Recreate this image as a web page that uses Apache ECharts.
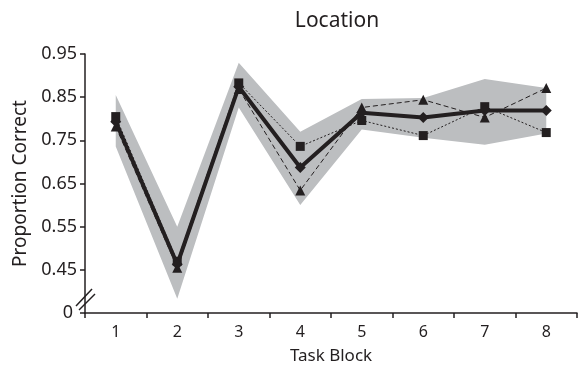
<!DOCTYPE html>
<html>
<head>
<meta charset="utf-8">
<script src="https://cdn.jsdelivr.net/npm/echarts@6/dist/echarts.min.js"></script>
<style>
html,body{margin:0;padding:0;background:#fff;}
#chart{width:578px;height:370px;}
</style>
</head>
<body>
<div id="chart"></div>
<script>
var categories = ['1','2','3','4','5','6','7','8'];
var yTickLabels = ['0','0.45','0.55','0.65','0.75','0.85','0.95'];
var squareSeries   = [0.805, 0.470, 0.883, 0.736, 0.796, 0.761, 0.828, 0.768];
var triangleSeries = [0.782, 0.455, 0.869, 0.634, 0.826, 0.844, 0.803, 0.871];
var meanSeries     = [0.793, 0.463, 0.874, 0.687, 0.814, 0.803, 0.819, 0.819];
var bandLow        = [0.736, 0.383, 0.826, 0.600, 0.775, 0.756, 0.740, 0.766];
var bandHigh       = [0.855, 0.550, 0.930, 0.770, 0.846, 0.848, 0.892, 0.871];

var ink = '#231f20';
var font = 'Noto Sans';
var bandSpan = bandHigh.map(function(v, i){ return +(v - bandLow[i]).toFixed(4); });

var chart = echarts.init(document.getElementById('chart'));
chart.setOption({
  animation: false,
  title: {
    text: 'Location', left: 332, top: 6, textAlign: 'center',
    textStyle: {fontFamily: font, fontSize: 21, fontWeight: 'normal', color: ink}
  },
  grid: {left: 85, right: 1, top: 54, bottom: 56, containLabel: false},
  xAxis: {
    type: 'category', data: categories, boundaryGap: true,
    name: 'Task Block', nameLocation: 'middle', nameGap: 35,
    nameTextStyle: {fontFamily: font, fontSize: 17, color: ink},
    axisLine: {lineStyle: {color: ink, width: 1.5}},
    axisTick: {show: true, length: 5, lineStyle: {color: ink, width: 1.5}},
    axisLabel: {fontFamily: font, fontSize: 16, color: ink, margin: 11},
    splitLine: {show: false}
  },
  yAxis: {
    type: 'value', min: 0.35, max: 0.95, interval: 0.1,
    name: 'Proportion Correct', nameLocation: 'middle', nameGap: 52,
    nameTextStyle: {fontFamily: font, fontSize: 19, color: ink},
    axisLine: {show: true, lineStyle: {color: ink, width: 1.5}},
    axisTick: {show: true, length: 5, lineStyle: {color: ink, width: 1.5}},
    axisLabel: {
      fontFamily: font, fontSize: 18, color: ink, margin: 8,
      formatter: function(v){
        var idx = Math.round((v - 0.35) / 0.1);
        if (idx === 0) return '{z|' + yTickLabels[0] + '}';
        return yTickLabels[idx] !== undefined ? yTickLabels[idx] : '';
      },
      rich: {z: {fontFamily: font, fontSize: 18, color: ink, padding: [0, 4, 0, 0]}}
    },
    splitLine: {show: false}
  },
  series: [
    {
      type: 'line', data: bandLow, stack: 'band', symbol: 'none', silent: true,
      lineStyle: {opacity: 0}, z: 1
    },
    {
      type: 'line', data: bandSpan, stack: 'band', symbol: 'none', silent: true,
      lineStyle: {opacity: 0}, areaStyle: {color: '#bcbec0', opacity: 1}, z: 1
    },
    {
      type: 'line', data: squareSeries, symbol: 'rect', symbolSize: 9,
      itemStyle: {color: ink}, lineStyle: {color: ink, width: 1, type: [2, 2]}, z: 3
    },
    {
      type: 'line', data: triangleSeries, symbol: 'triangle', symbolSize: 10,
      itemStyle: {color: ink}, lineStyle: {color: ink, width: 1, type: [5, 3]}, z: 3
    },
    {
      type: 'line', data: meanSeries, symbol: 'diamond', symbolSize: 11,
      itemStyle: {color: ink}, lineStyle: {color: ink, width: 4}, z: 4
    }
  ]
});

// axis break marks "//"
var y0 = chart.convertToPixel({yAxisIndex: 0}, 0.38);
var x0 = 85;
chart.setOption({
  graphic: [
    {type: 'line', shape: {x1: x0 - 9, y1: y0 + 6, x2: x0 + 7, y2: y0 - 11},
     style: {stroke: ink, lineWidth: 1.5}, z: 10},
    {type: 'line', shape: {x1: x0 - 6, y1: y0 + 10, x2: x0 + 10, y2: y0 - 6},
     style: {stroke: ink, lineWidth: 1.5}, z: 10}
  ]
});
</script>
</body>
</html>
